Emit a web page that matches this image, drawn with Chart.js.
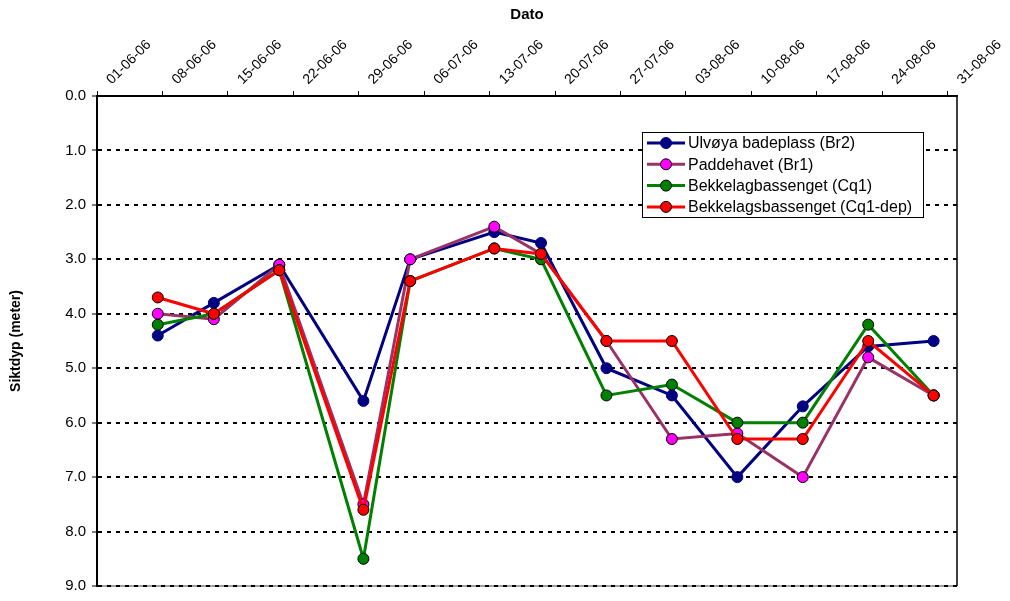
<!DOCTYPE html>
<html>
<head>
<meta charset="utf-8">
<script src="https://cdn.jsdelivr.net/npm/chart.js@4/dist/chart.umd.min.js"></script>
<style>
  html, body { margin: 0; padding: 0; background: #ffffff; }
  #wrap { width: 1010px; height: 601px; position: relative; }
</style>
</head>
<body>
<div id="wrap"><canvas id="c" width="1010" height="601"></canvas></div>
<script>
// ---- data ----
const sampleDates = ['07-06-06','13-06-06','20-06-06','29-06-06','04-07-06','13-07-06','18-07-06','25-07-06','01-08-06','08-08-06','15-08-06','22-08-06','29-08-06'];
const tickLabels = ['01-06-06','08-06-06','15-06-06','22-06-06','29-06-06','06-07-06','13-07-06','20-07-06','27-07-06','03-08-06','10-08-06','17-08-06','24-08-06','31-08-06'];
const yTicks = [0,1,2,3,4,5,6,7,8,9];
const seriesNames = ['Ulvøya badeplass (Br2)','Paddehavet (Br1)','Bekkelagbassenget (Cq1)','Bekkelagsbassenget (Cq1-dep)'];
const ulvoya = [4.4,3.8,3.1,5.6,3.0,2.5,2.7,5.0,5.5,7.0,5.7,4.6,4.5];
const paddehavet = [4.0,4.1,3.1,7.5,3.0,2.4,2.9,4.5,6.3,6.2,7.0,4.8,5.5];
const bekkelag = [4.2,4.0,3.2,8.5,3.4,2.8,3.0,5.5,5.3,6.0,6.0,4.2,5.5];
const bekkelagDep = [3.7,4.0,3.2,7.6,3.4,2.8,2.9,4.5,4.5,6.3,6.3,4.5,5.5];
const axisStart = '01-06-06';
const axisEnd = '01-09-06';

function dayIndex(s) {
  const [d, m, y] = s.split('-').map(Number);
  const [d0, m0, y0] = axisStart.split('-').map(Number);
  return Math.round((Date.UTC(2000 + y, m - 1, d) - Date.UTC(2000 + y0, m0 - 1, d0)) / 86400000);
}
function pts(vals) { return vals.map((v, i) => ({ x: dayIndex(sampleDates[i]) + 0.5, y: v })); }
const tickDays = tickLabels.map(dayIndex);

const FONT = "'Liberation Sans', Arial, sans-serif";

const styles = [
  { line: '#000080', fill: '#000080', border: '#000080', order: 3 },
  { line: '#993366', fill: '#FF00FF', border: '#000000', order: 2 },
  { line: '#008000', fill: '#008000', border: '#000000', order: 1 },
  { line: '#FF0000', fill: '#FF0000', border: '#000000', order: 0 }
];
const allVals = [ulvoya, paddehavet, bekkelag, bekkelagDep];

const datasets = allVals.map((vals, i) => ({
  label: seriesNames[i],
  data: pts(vals),
  borderColor: styles[i].line,
  backgroundColor: styles[i].fill,
  pointBackgroundColor: styles[i].fill,
  pointBorderColor: styles[i].border,
  pointBorderWidth: 1,
  pointRadius: 5.5,
  pointHoverRadius: 5.5,
  borderWidth: 3,
  tension: 0,
  order: styles[i].order
}));

const framePlugin = {
  id: 'frame',
  beforeDraw(chart) {
    const { ctx, chartArea: a } = chart;
    ctx.save();
    ctx.strokeStyle = '#a0a0a0';
    ctx.lineWidth = 2;
    ctx.beginPath();
    ctx.moveTo(a.left, a.bottom);
    ctx.lineTo(a.right, a.bottom);
    ctx.stroke();
    ctx.restore();
  },
  beforeDatasetsDraw(chart) {
    const { ctx, chartArea: a } = chart;
    ctx.save();
    ctx.strokeStyle = '#000000';
    ctx.lineWidth = 1.5;
    ctx.beginPath();
    ctx.moveTo(a.right, a.top);
    ctx.lineTo(a.right, a.bottom);
    ctx.stroke();
    ctx.restore();
  }
};

const legendPlugin = {
  id: 'boxLegend',
  afterDraw(chart) {
    const { ctx } = chart;
    const x0 = 642, y0 = 132, w = 281, h = 85;
    ctx.save();
    ctx.fillStyle = '#ffffff';
    ctx.fillRect(x0, y0, w, h);
    ctx.strokeStyle = '#000000';
    ctx.lineWidth = 1;
    ctx.strokeRect(x0 + 0.5, y0 + 0.5, w, h);
    ctx.font = '16px ' + FONT;
    ctx.textBaseline = 'middle';
    ctx.textAlign = 'left';
    chart.data.datasets.forEach((ds, i) => {
      const cy = y0 + 11 + i * 21.3;
      ctx.strokeStyle = ds.borderColor;
      ctx.lineWidth = 3;
      ctx.beginPath();
      ctx.moveTo(x0 + 5, cy);
      ctx.lineTo(x0 + 43, cy);
      ctx.stroke();
      ctx.beginPath();
      ctx.arc(x0 + 24, cy, 5.5, 0, Math.PI * 2);
      ctx.fillStyle = ds.pointBackgroundColor;
      ctx.fill();
      ctx.lineWidth = 1;
      ctx.strokeStyle = ds.pointBorderColor;
      ctx.stroke();
      ctx.fillStyle = '#000000';
      ctx.fillText(ds.label, x0 + 46, cy + 1);
    });
    ctx.restore();
  }
};

new Chart(document.getElementById('c'), {
  type: 'line',
  data: { datasets },
  plugins: [framePlugin, legendPlugin],
  options: {
    responsive: false,
    animation: false,
    events: [],
    layout: { padding: { left: 0, top: 0, right: 53, bottom: 7 } },
    plugins: { legend: { display: false }, tooltip: { enabled: false } },
    scales: {
      x: {
        type: 'linear',
        position: 'top',
        min: dayIndex(axisStart),
        max: dayIndex(axisEnd),
        afterBuildTicks: (s) => { s.ticks = tickDays.map(v => ({ value: v })); },
        afterFit: (s) => { s.height = 96; },
        ticks: {
          autoSkip: false,
          minRotation: 45,
          maxRotation: 45,
          labelOffset: 24,
          padding: 3,
          color: '#000000',
          font: { family: FONT, size: 14 },
          callback: (v) => { const k = tickDays.indexOf(v); return k >= 0 ? tickLabels[k] : ''; }
        },
        grid: { display: true, drawOnChartArea: false, drawTicks: true, tickLength: 5, color: '#000000', lineWidth: 1 },
        border: { display: true, color: '#000000', width: 2 },
        title: { display: true, text: 'Dato', color: '#000000', font: { family: FONT, size: 15, weight: 'bold' }, padding: { top: 6, bottom: 0 } }
      },
      y: {
        type: 'linear',
        reverse: true,
        min: yTicks[0],
        max: yTicks[yTicks.length - 1],
        afterBuildTicks: (s) => { s.ticks = yTicks.map(v => ({ value: v })); },
        afterFit: (s) => { s.width = 97; },
        ticks: {
          padding: 6,
          color: '#000000',
          font: { family: FONT, size: 15 },
          callback: (v) => Number(v).toFixed(1)
        },
        grid: { display: true, drawOnChartArea: true, drawTicks: true, tickLength: 5, color: '#000000', lineWidth: 2, tickWidth: 1, tickBorderDash: [] },
        border: { display: true, color: '#000000', width: 2, dash: [4, 5] },
        title: { display: true, text: 'Siktdyp (meter)', color: '#000000', font: { family: FONT, size: 14, weight: 'bold' }, padding: { top: 8, bottom: 0 } }
      }
    }
  }
});
</script>
</body>
</html>
